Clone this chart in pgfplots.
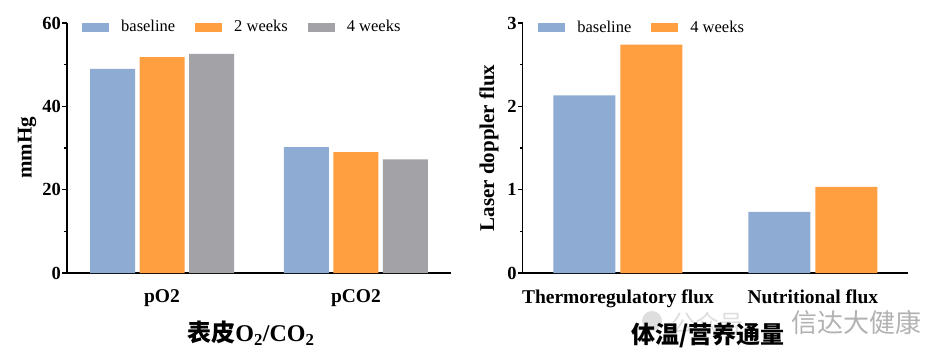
\documentclass[border=0pt]{standalone}
\usepackage{fontspec}
\setmainfont{Liberation Serif}
\newfontfamily\cjk{Noto Sans CJK SC}
\usepackage{pgfplots}
\pgfplotsset{compat=1.18}
\definecolor{cblue}{RGB}{142,171,211}
\definecolor{corange}{RGB}{255,159,64}
\definecolor{cgray}{RGB}{163,162,167}
\pgfplotsset{
  mybar/.style={
    scale only axis, ybar, ymin=0,
    axis x line*=bottom, axis y line*=left,
    axis line style={line width=1.4pt,-},
    every tick/.style={black,line width=1.2pt},
    tick align=outside,
    major tick length=5pt, minor tick length=3pt,
    minor y tick num=1,
    xtick={0,1}, x tick style={draw=none},
    /pgf/number format/assume math mode=true,
    y tick label style={font=\fontsize{18.5}{20}\selectfont\bfseries, inner sep=1pt},
    x tick label style={font=\fontsize{19.5}{21}\selectfont\bfseries, yshift=-8pt},
    ylabel style={font=\fontsize{21}{23}\selectfont\bfseries, rotate=0},
    xlabel style={font=\fontsize{24}{26}\selectfont\bfseries, anchor=center},
    legend image code/.code={\fill[#1] (0pt,-4.5pt) rectangle (27pt,4.5pt);},
    legend style={draw=none, fill=none, inner sep=0pt, anchor=west,
      font=\fontsize{16.5}{18}\selectfont,
      /tikz/every odd column/.append style={column sep=10pt},
      /tikz/every even column/.append style={column sep=18pt}},
    legend cell align=left,
  }
}
\begin{document}
\begin{tikzpicture}[x=1pt,y=1pt]
\useasboundingbox (0,0) rectangle (952,362);
% watermark
\node[anchor=west, text=black!13, font=\cjk\fontsize{24}{26}\selectfont] at (668,39) {公众号};
\node[anchor=west, text=black!30, font=\cjk\fontsize{26}{28}\selectfont] at (788,39) {信达大健康};
\fill[black!13] (652,41) circle (10);
% left panel
\begin{axis}[mybar,
  at={(67pt,89pt)}, anchor=south west,
  width=384pt, height=250pt,
  xmin=-0.49, xmax=1.49, ymax=60,
  ytick={0,20,40,60},
  xticklabels={pO2,pCO2},
  ylabel={mmHg},
  ylabel style={at={(axis description cs:-0.104,0.5)}, anchor=center},
  xlabel={{\cjk 表皮}O\textsubscript{2}/CO\textsubscript{2}},
  xlabel style={at={(axis description cs:0.479,0)}, yshift=-60pt},
  legend columns=3,
  legend style={at={(axis description cs:0.039,0.984)}},
]
\addplot[fill=cblue, draw=none, bar width=45pt, bar shift=-49.5pt] coordinates {(0,49.0) (1,30.2)};
\addplot[fill=corange, draw=none, bar width=45pt, bar shift=0pt] coordinates {(0,51.8) (1,29.0)};
\addplot[fill=cgray, draw=none, bar width=45pt, bar shift=49.5pt] coordinates {(0,52.6) (1,27.3)};
\legend{baseline,2 weeks,4 weeks}
\end{axis}
% right panel
\begin{axis}[mybar,
  at={(522.7pt,89pt)}, anchor=south west,
  width=385pt, height=250pt,
  xmin=-0.489, xmax=1.487, ymax=3,
  ytick={0,1,2,3},
  xticklabels={Thermoregulatory flux,Nutritional flux},
  ylabel={Laser doppler flux},
  ylabel style={at={(axis description cs:-0.0875,0.5)}, anchor=center},
  xlabel={\cjk 体温/营养通量},
  xlabel style={at={(axis description cs:0.481,0)}, yshift=-62pt},
  legend columns=2,
  legend style={at={(axis description cs:0.04,0.982)}},
]
\addplot[fill=cblue, draw=none, bar width=62pt, bar shift=-33.5pt] coordinates {(0,2.133) (1,0.735)};
\addplot[fill=corange, draw=none, bar width=62pt, bar shift=33.5pt] coordinates {(0,2.74) (1,1.035)};
\legend{baseline,4 weeks}
\end{axis}
\end{tikzpicture}
\end{document}
